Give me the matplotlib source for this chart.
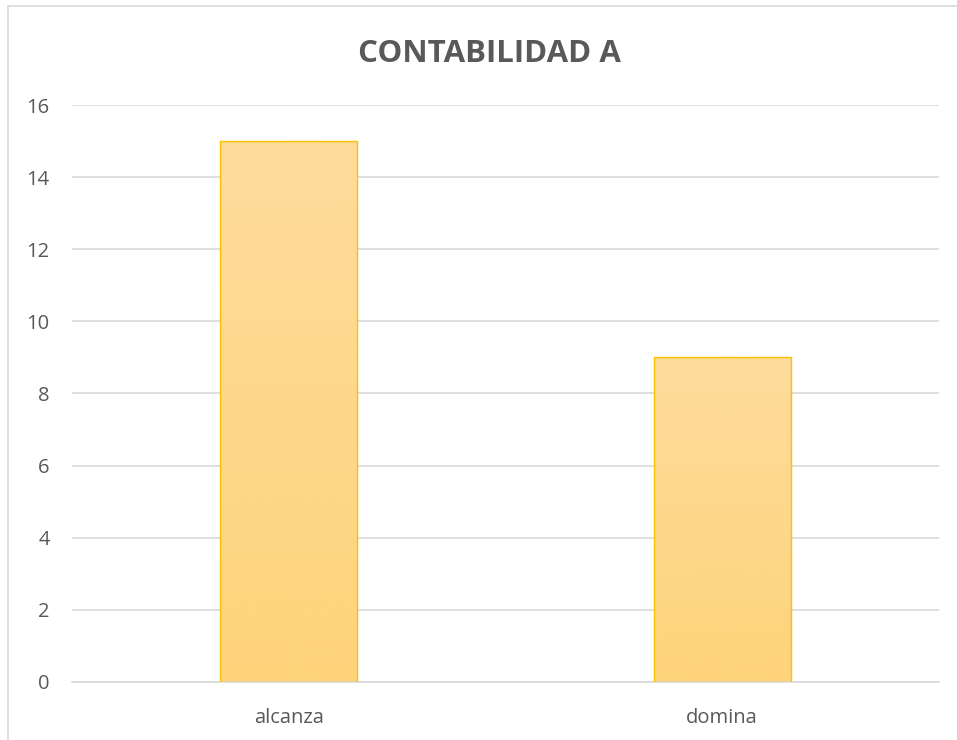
import numpy as np
import matplotlib
matplotlib.use("Agg")
import matplotlib.pyplot as plt
from matplotlib.colors import LinearSegmentedColormap
from matplotlib.patches import Rectangle

plt.rcParams["font.family"] = ["Open Sans", "DejaVu Sans"]

categories = ["alcanza", "domina"]
values = [15, 9]
yticks = [0, 2, 4, 6, 8, 10, 12, 14, 16]

TEXT_C = "#595959"
GRID_C = "#D9D9D9"
EDGE_C = "#FFC000"
grad = LinearSegmentedColormap.from_list("bar", ["#FED37A", "#FEDC9C"])

fig = plt.figure(figsize=(9.57, 7.4), dpi=100)
ax = fig.add_axes([0.0752, 0.0784, 0.906, 0.7797])

# chart border (Excel chart area)
fig.patches.append(Rectangle((8 / 957, -0.01), 1.0, 1 - 6 / 740 + 0.01,
                             transform=fig.transFigure, fill=False,
                             edgecolor=GRID_C, lw=1.2))

x = np.arange(len(categories))
width = 0.316
bars = ax.bar(x, values, width=width, color="none", edgecolor=EDGE_C,
              linewidth=1.0, zorder=3)
g = np.linspace(0, 1, 256).reshape(-1, 1)
for b in bars:
    x0, y0 = b.get_x(), b.get_y()
    ax.imshow(g, cmap=grad, origin="lower", aspect="auto", zorder=2,
              extent=(x0, x0 + b.get_width(), y0, y0 + b.get_height()))

ax.set_xlim(-0.5, 1.5)
ax.set_ylim(0, 16)
ax.set_yticks(yticks)
ax.set_xticks(x)
ax.set_xticklabels(categories)
ax.yaxis.grid(True, color=GRID_C, lw=1.2)
ax.set_axisbelow(True)
for s in ["top", "right", "left"]:
    ax.spines[s].set_visible(False)
ax.spines["bottom"].set_color(GRID_C)
ax.spines["bottom"].set_linewidth(1.2)
ax.tick_params(length=0, labelsize=14.5, colors=TEXT_C)
ax.tick_params(axis="y", pad=16)
ax.tick_params(axis="x", pad=19)

fig.text(489 / 957, 1 - 54 / 740, "CONTABILIDAD A", ha="center", va="center",
         fontsize=22.5, fontweight="bold", color=TEXT_C)

fig.savefig("out.png", dpi=100)
